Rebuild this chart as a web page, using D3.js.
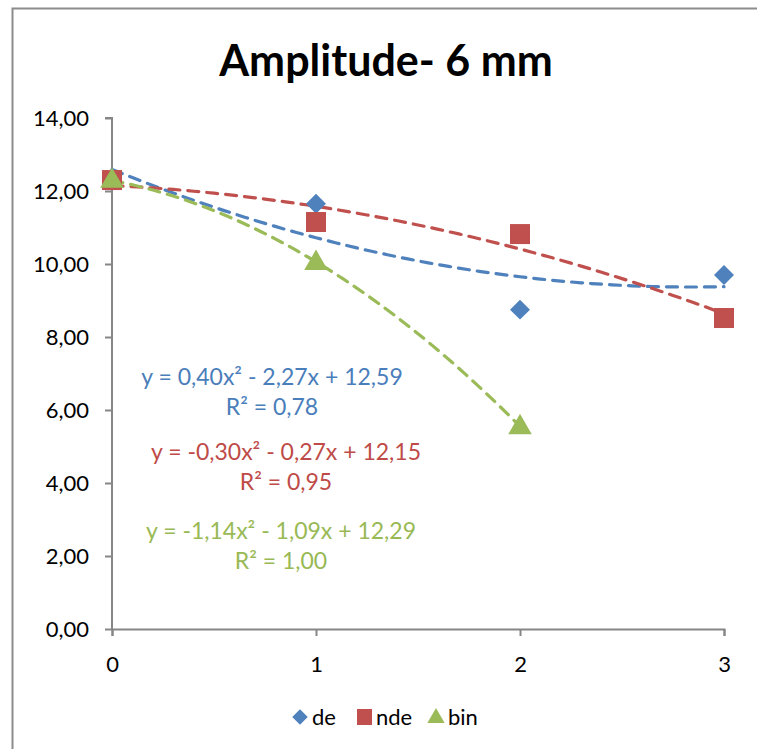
<!DOCTYPE html>
<html>
<head>
<meta charset="utf-8">
<script src="https://cdn.jsdelivr.net/npm/d3@7"></script>
<style>
  html, body { margin: 0; padding: 0; background: #fff; }
  svg { display: block; font-family: Lato, "Open Sans", sans-serif; }
</style>
</head>
<body>
<svg id="chart" width="757" height="749"></svg>
<script>
// Amplitude measurements per step, three conditions
const xValues = [0, 1, 2, 3];
const deValues = [12.3, 11.65, 8.75, 9.7];
const ndeValues = [12.3, 11.15, 10.82, 8.52];
const binValues = [12.3, 10.05, 5.55];

// Quadratic trendline coefficients [a, b, c] for y = a x² + b x + c
const deFit = [0.40, -2.27, 12.59];
const ndeFit = [-0.30, -0.27, 12.15];
const binFit = [-1.14, -1.09, 12.29];

const yTicks = [0, 2, 4, 6, 8, 10, 12, 14];
const xTicks = [0, 1, 2, 3];

const eqLabels = [
  { text: "y = 0,40x² - 2,27x + 12,59", r2: "R² = 0,78", color: "#4a7ebb" },
  { text: "y = -0,30x² - 0,27x + 12,15", r2: "R² = 0,95", color: "#be4b48" },
  { text: "y = -1,14x² - 1,09x + 12,29", r2: "R² = 1,00", color: "#98b954" }
];

const colors = { de: "#4f81bd", nde: "#c0504d", bin: "#9bbb59" };

const svg = d3.select("#chart");

// chart frame
svg.append("rect")
  .attr("x", 12.5).attr("y", 8.5)
  .attr("width", 760).attr("height", 760)
  .attr("fill", "none").attr("stroke", "#8c8c8c").attr("stroke-width", 2);

const x = d3.scaleLinear().domain([0, 3]).range([112, 724]);
const y = d3.scaleLinear().domain([0, 14]).range([629, 118]);

// title
svg.append("text")
  .attr("x", 386).attr("y", 76)
  .attr("text-anchor", "middle")
  .attr("font-size", 43).attr("font-weight", "bold")
  .attr("fill", "#000")
  .text("Amplitude- 6 mm");

// y axis
const yAxis = svg.append("g")
  .attr("transform", `translate(${x(0)},0)`)
  .call(d3.axisLeft(y).tickValues(yTicks).tickSize(7).tickPadding(16)
    .tickFormat(d => d3.format(".2f")(d).replace(".", ",")));

// x axis
const xAxis = svg.append("g")
  .attr("transform", `translate(0,${y(0)})`)
  .call(d3.axisBottom(x).tickValues(xTicks).tickSize(7).tickPadding(20)
    .tickFormat(d3.format("d")));

[yAxis, xAxis].forEach(g => {
  g.select(".domain").attr("stroke", "#868686").attr("stroke-width", 2);
  g.selectAll(".tick line").attr("stroke", "#868686").attr("stroke-width", 2);
  g.selectAll(".tick text").attr("font-size", 22).attr("fill", "#000")
    .attr("font-family", "Lato, 'Open Sans', sans-serif");
});
yAxis.select(".domain").attr("d", `M-7,${y(14)}H0V${y(0)}`);

// trendlines
function trend(coef, x0, x1) {
  const pts = d3.range(0, 61).map(i => {
    const xv = x0 + (x1 - x0) * i / 60;
    return [xv, coef[0] * xv * xv + coef[1] * xv + coef[2]];
  });
  return d3.line().x(d => x(d[0])).y(d => y(d[1]))(pts);
}
const trends = [
  { coef: deFit, end: 3, color: colors.de },
  { coef: ndeFit, end: 3, color: colors.nde },
  { coef: binFit, end: 2, color: colors.bin }
];
svg.append("g").selectAll("path").data(trends).join("path")
  .attr("d", d => trend(d.coef, 0, d.end))
  .attr("fill", "none")
  .attr("stroke", d => d.color)
  .attr("stroke-width", 3.2)
  .attr("stroke-dasharray", "11,8")
  .attr("stroke-linecap", "round");

// markers
const diamond = d3.symbol().type(d3.symbolSquare).size(200);
svg.append("g").selectAll("path")
  .data(deValues.map((v, i) => [xValues[i], v])).join("path")
  .attr("transform", d => `translate(${x(d[0])},${y(d[1])}) rotate(45)`)
  .attr("d", diamond).attr("fill", colors.de);

svg.append("g").selectAll("rect")
  .data(ndeValues.map((v, i) => [xValues[i], v])).join("rect")
  .attr("x", d => x(d[0]) - 10).attr("y", d => y(d[1]) - 10)
  .attr("width", 20).attr("height", 20).attr("fill", colors.nde);

const tri = d3.symbol().type(d3.symbolTriangle).size(240);
svg.append("g").selectAll("path")
  .data(binValues.map((v, i) => [xValues[i], v])).join("path")
  .attr("transform", d => `translate(${x(d[0])},${y(d[1]) + 1})`)
  .attr("d", tri).attr("fill", colors.bin);

// trendline equations
const eqPos = [[272, 377], [286, 452], [281, 531]];
eqLabels.forEach((e, i) => {
  const [cx, cy] = eqPos[i];
  const t = svg.append("text").attr("text-anchor", "middle")
    .attr("font-size", 23).attr("fill", e.color);
  t.append("tspan").attr("x", cx).attr("y", cy + 8).text(e.text);
  t.append("tspan").attr("x", cx).attr("y", cy + 38).text(e.r2);
});

// legend
const legend = [
  { name: "de", color: colors.de, x: 300 },
  { name: "nde", color: colors.nde, x: 364 },
  { name: "bin", color: colors.bin, x: 436 }
];
const lg = svg.append("g");
legend.forEach(l => {
  const ly = 717;
  if (l.name === "de") {
    lg.append("path").attr("transform", `translate(${l.x},${ly}) rotate(45)`)
      .attr("d", d3.symbol().type(d3.symbolSquare).size(120)()).attr("fill", l.color);
  } else if (l.name === "nde") {
    lg.append("rect").attr("x", l.x - 7).attr("y", ly - 8).attr("width", 15).attr("height", 16).attr("fill", l.color);
  } else {
    lg.append("path").attr("transform", `translate(${l.x},${ly + 1})`)
      .attr("d", d3.symbol().type(d3.symbolTriangle).size(130)()).attr("fill", l.color);
  }
  lg.append("text").attr("x", l.x + 12).attr("y", ly + 8)
    .attr("font-size", 22).attr("fill", "#000").text(l.name);
});
</script>
</body>
</html>
